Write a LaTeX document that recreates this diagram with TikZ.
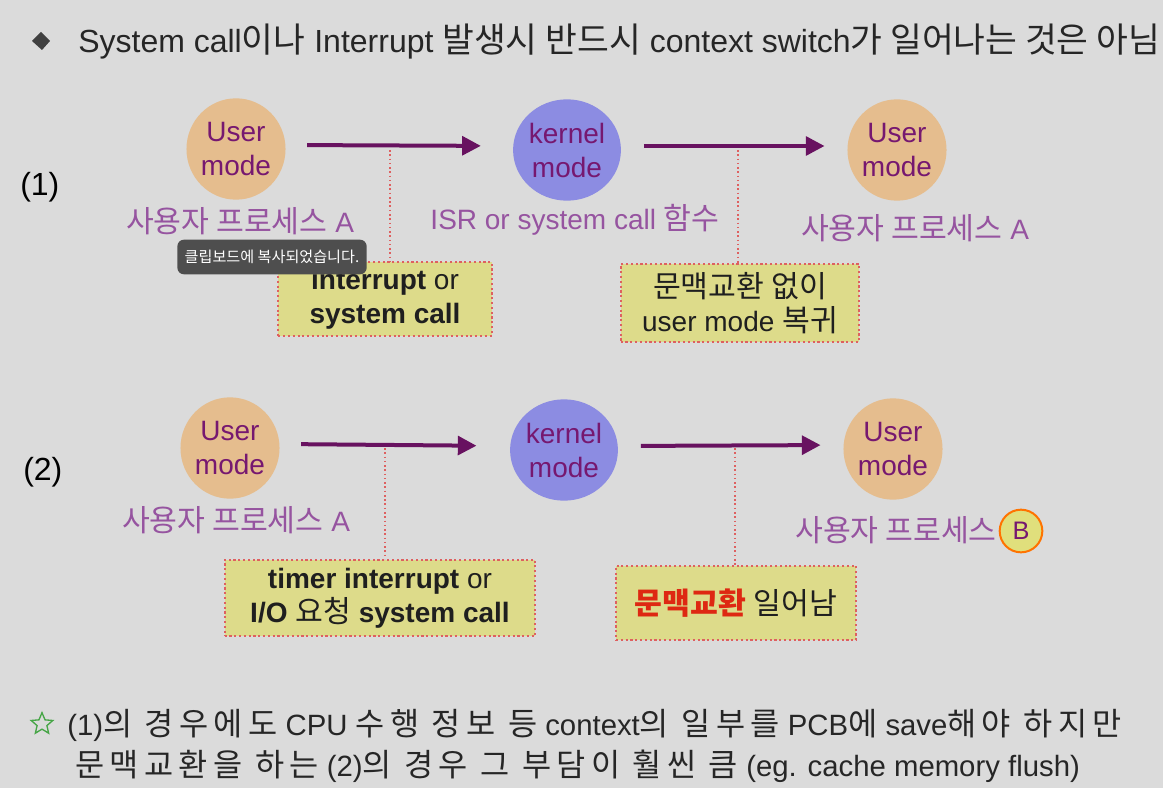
\documentclass[tikz,border=0pt]{standalone}
\usepackage{fontspec}
\setmainfont{Liberation Sans}
\newfontfamily\krfont[Scale=1.08]{Noto Sans CJK KR}
\newfontfamily\krwide[Scale=1.08, LetterSpace=17]{Noto Sans CJK KR}
\usetikzlibrary{
		shapes.geometric,
		arrows.meta,
		positioning
	}
\definecolor{bgcol}{RGB}{219,219,219}
\definecolor{usercol}{RGB}{229,189,142}
\definecolor{kerncol}{RGB}{140,140,226}
\definecolor{modetext}{RGB}{118,24,112}
\definecolor{flowcol}{RGB}{104,18,96}
\definecolor{proccol}{RGB}{150,84,160}
\definecolor{boxcol}{RGB}{221,219,138}
\definecolor{dotcol}{RGB}{222,96,96}
\definecolor{redtext}{RGB}{222,40,18}
\definecolor{tipcol}{RGB}{78,78,78}
\definecolor{starcol}{RGB}{70,165,70}
\newcommand{\kr}[1]{{\krfont #1}}
\newcommand{\krw}[1]{{\krwide #1}}
\tikzset{
		>=Triangle
	}

\begin{document}
\begin{tikzpicture}[x=0.75pt, y=-0.75pt,
					usermode/.style={ellipse, fill=usercol, minimum width=72pt, minimum height=76pt, inner sep=0pt, align=center, text=modetext, font=\fontsize{21}{25.5}\selectfont},
					kernmode/.style={usermode, fill=kerncol},
					flow/.style={->, draw=flowcol, line width=3pt, arrows={-Triangle[length=14pt, width=14pt]}},
					tick/.style={draw=dotcol, line width=1.2pt, dotted},
					note/.style={draw=dotcol, dotted, line width=1.6pt, fill=boxcol, align=center, inner sep=0pt, text=black!88, font=\fontsize{21}{25.5}\selectfont},
					proc/.style={text=proccol, inner sep=0pt, font=\fontsize{21}{25}\selectfont},
					plain/.style={inner sep=0pt, anchor=west, font=\fontsize{22}{26}\selectfont}]
	\useasboundingbox (0,0) rectangle (1163,788);
	\fill[bgcol] (0,0) rectangle (1163,788);

	% heading
	\fill[black!75] (32,41) -- (41,32) -- (50,41) -- (42,50) -- cycle;
	\node[plain, font=\fontsize{24}{28}\selectfont, text=black!85] (head) at (78,42) {System call\kr{이나} Interrupt \kr{발생시 반드시} context switch\kr{가 일어나는 것은 아님}};

	% (1)
	\node[plain, font=\fontsize{24}{28}\selectfont] (n1) at (20,187) {(1)};
	\node[usermode] (u1) at (236,149) {User\\mode};
	\node[kernmode] (k1) at (567,150) {kernel\\mode};
	\node[usermode] (v1) at (897,150) {User\\mode};
	\draw[flow, shorten <=16pt, shorten >=24pt] ([yshift=3pt]u1.east) -- ([yshift=3pt]k1.west);
	\draw[flow, shorten <=17pt, shorten >=17pt] ([yshift=3pt]k1.east) -- ([yshift=3pt]v1.west);
	\node[proc] (p1) at (240,221) {\kr{사용자 프로세스} A};
	\node[proc] (i1) at (575,220) {ISR or system call \kr{함수}};
	\node[proc] (p2) at (915,228) {\kr{사용자 프로세스} A};
	\node[note, minimum width=160pt, minimum height=55pt] (b1) at (385,299) {\textbf{interrupt} or\\\textbf{system call}};
	\node[note, minimum width=179pt, minimum height=58pt] (b2) at (740,303) {\kr{문맥교환 없이}\\user mode \kr{복귀}};
	\coordinate (c1) at (390,150);
	\coordinate (c2) at (738,150);
	\draw[tick] (c1) -- (c1 |- b1.north);
	\draw[tick] (c2) -- (c2 |- b2.north);

	% clipboard tip
	\node[fill=tipcol, rounded corners=5pt, minimum width=142pt, minimum height=26pt, inner sep=0pt, text=white, font=\fontsize{10.5}{12}\selectfont] (tip) at (272,257) {\kr{클립보드에 복사되었습니다.}};

	% (2)
	\node[plain, font=\fontsize{24}{28}\selectfont] (n2) at (23,472) {(2)};
	\node[usermode] (u2) at (230,448) {User\\mode};
	\node[kernmode] (k2) at (564,450) {kernel\\mode};
	\node[usermode] (v2) at (893,449) {User\\mode};
	\draw[flow, shorten <=16pt, shorten >=25pt] ([yshift=3pt]u2.east) -- ([yshift=3pt]k2.west);
	\draw[flow, shorten <=17pt, shorten >=17pt] ([yshift=3pt]k2.east) -- ([yshift=3pt]v2.west);
	\node[proc] (p3) at (236,520) {\kr{사용자 프로세스} A};
	\node[proc, anchor=east] (p4) at (997,530) {\kr{사용자 프로세스}};
	\node[circle, draw=orange!90!red, line width=1.5pt, fill=boxcol!90!yellow, minimum size=32pt, inner sep=0pt, text=modetext, font=\fontsize{19}{22}\selectfont] (pb) at (1021,531) {B};
	\node[note, minimum width=233pt, minimum height=57pt] (b3) at (380,598) {\textbf{timer interrupt} or\\\textbf{I/O} \kr{요청} \textbf{system call}};
	\node[note, minimum width=180pt, minimum height=56pt] (b4) at (736,603) {\textcolor{redtext}{\textbf{\kr{문맥교환}}} \kr{일어남}};
	\coordinate (c3) at (385,448);
	\coordinate (c4) at (735,448);
	\draw[tick] (c3) -- (c3 |- b3.north);
	\draw[tick] (c4) -- (c4 |- b4.north);

	% summary
	\node[star, star points=5, star point ratio=2.2, draw=starcol, line width=1pt, minimum size=17pt, inner sep=0pt] (st) at (42,724) {};
	\node[plain, text=black!85] (s1) at (67,725) {(1)\krw{의 경우에도} CPU \krw{수행 정보 등} context\krw{의 일부를} PCB\krw{에} save\krw{해야 하지만}};
	\node[plain, text=black!85] (s2) at (75,766) {\krw{문맥교환을 하는} (2)\krw{의 경우 그 부담이 훨씬 큼} (eg. cache memory flush)};
\end{tikzpicture}
\end{document}
